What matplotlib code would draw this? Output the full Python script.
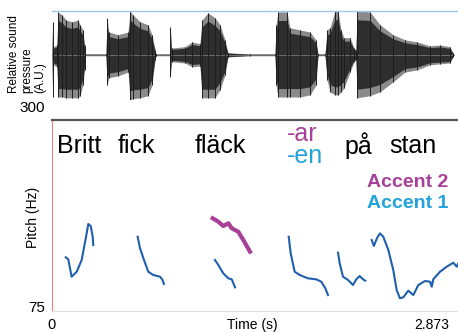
import matplotlib
matplotlib.use('Agg')
from matplotlib import pyplot as plt
import numpy as np

W, H = 458, 332

# waveform envelope: time (s), upper / lower relative amplitude
wave_t = [0.000, 0.004, 0.007, 0.035, 0.042, 0.071, 0.099, 0.142, 0.184, 0.198,
          0.219, 0.230, 0.237, 0.382, 0.389, 0.403, 0.467, 0.538, 0.552, 0.573,
          0.623, 0.679, 0.708, 0.729, 0.736, 0.835, 0.838, 0.846, 0.849, 0.941,
          0.991, 1.047, 1.061, 1.104, 1.153, 1.189, 1.224, 1.245, 1.401, 1.578,
          1.585, 1.599, 1.663, 1.684, 1.755, 1.826, 1.868, 1.882, 1.932, 1.946,
          1.967, 2.002, 2.024, 2.045, 2.066, 2.109, 2.137, 2.151, 2.158, 2.250,
          2.321, 2.413, 2.498, 2.583, 2.675, 2.745, 2.816, 2.837, 2.845]
wave_top = [0.00, 0.77, 0.19, 0.23, 1.00, 0.93, 0.81, 0.77, 0.81, 0.70,
            0.58, 0.23, 0.02, 0.02, 0.86, 0.53, 0.47, 0.53, 1.02, 0.93,
            0.77, 0.70, 0.47, 0.12, 0.02, 0.02, 0.65, 0.07, 0.16, 0.19,
            0.30, 0.26, 0.81, 0.98, 0.86, 0.70, 0.35, 0.05, 0.02, 0.02,
            0.70, 1.00, 1.00, 0.63, 0.58, 0.53, 0.35, 0.02, 0.02, 0.58,
            0.63, 1.02, 1.02, 0.58, 0.40, 0.40, 0.16, 0.12, 1.02, 1.00,
            0.70, 0.47, 0.35, 0.30, 0.21, 0.23, 0.19, 0.05, 0.00]
wave_bot = [0.00, -0.98, -0.23, -0.28, -0.98, -0.98, -1.00, -1.00, -1.00, -0.95,
            -0.70, -0.35, -0.02, -0.02, -0.70, -0.53, -0.49, -0.40, -1.05, -1.02,
            -1.00, -0.95, -0.70, -0.12, -0.02, -0.02, -0.51, -0.07, -0.16, -0.19,
            -0.28, -0.26, -1.00, -1.00, -1.00, -0.81, -0.47, -0.05, -0.02, -0.02,
            -0.70, -0.98, -0.98, -0.98, -0.98, -0.93, -0.70, -0.02, -0.02, -0.58,
            -0.86, -0.93, -0.93, -0.86, -0.77, -0.40, -0.16, -0.12, -1.00, -0.95,
            -0.86, -0.63, -0.40, -0.35, -0.23, -0.21, -0.19, -0.05, 0.00]

# pitch tracks (time s, Hz)
britt_t = [0.097, 0.115, 0.139, 0.175, 0.210, 0.241, 0.257, 0.274, 0.288, 0.292]
britt_hz = [138.3, 135.9, 115.4, 121.3, 135.1, 162.5, 177.5, 175.1, 162.5, 152.7]
fick_t = [0.606, 0.623, 0.651, 0.681, 0.717, 0.764, 0.780, 0.792]
fick_hz = [162.5, 148.9, 135.1, 121.3, 117.4, 115.4, 112.3, 106.8]
flack1_t = [1.153, 1.177, 1.212, 1.248, 1.272, 1.295]
flack1_hz = [135.1, 129.2, 119.4, 113.5, 112.3, 102.9]
flack2_t = [1.137, 1.177, 1.212, 1.248, 1.272, 1.318, 1.354, 1.401]
flack2_hz = [184.2, 180.2, 175.1, 178.3, 172.4, 168.4, 158.6, 144.9]
en_t = [1.675, 1.689, 1.717, 1.753, 1.811, 1.870, 1.906, 1.934, 1.953]
en_hz = [162.5, 143.0, 121.3, 117.4, 113.5, 112.3, 109.5, 101.7, 93.8]
pa_t = [2.024, 2.036, 2.059, 2.095, 2.130, 2.153, 2.177, 2.201, 2.217]
pa_hz = [143.7, 131.2, 115.4, 111.5, 105.6, 112.3, 116.2, 112.3, 110.7]
stan_t = [2.262, 2.278, 2.300, 2.321, 2.344, 2.380, 2.415, 2.439, 2.462, 2.486,
          2.521, 2.557, 2.592, 2.639, 2.675, 2.687, 2.698, 2.746, 2.793, 2.840,
          2.864, 2.873]
stan_hz = [158.6, 151.6, 161.0, 166.5, 162.5, 146.9, 123.3, 99.7, 90.0, 91.1,
           98.9, 93.8, 105.6, 110.3, 109.5, 103.6, 112.3, 121.3, 127.2, 131.9,
           127.2, 130.4]

words = ['Britt', 'fick', 'fläck', 'på', 'stan']
word_x = [57, 118, 195, 344, 389]

blue = '#1f5fae'
magenta = '#a8409a'
cyan = '#22a3d9'

plt.rcParams['font.family'] = ['Liberation Sans', 'DejaVu Sans']

fig = plt.figure(figsize=(W / 100, H / 100), dpi=100)


def fx(x):
    return x / W


def fy(y):
    return 1 - y / H


# waveform panel
ax1 = fig.add_axes([fx(52), fy(100), (458 - 52) / W, 89 / H])
wt = np.array(wave_t)
wtop = np.array(wave_top)
wbot = np.array(wave_bot)
ax1.plot([0, 2.845], [0, 0], color='#777777', lw=0.6)
ax1.fill_between(wt, wbot, wtop, color='#8a8a8a', lw=0)
ax1.fill_between(wt, wbot * 0.8, wtop * 0.8, color='#2e2e2e', lw=0)
ax1.vlines(wt, wbot, wtop, color='#1e1e1e', lw=0.7)
ax1.set_xlim(0, 2.873)
ax1.set_ylim(-1.05, 1.02)
for s in ['left', 'right', 'bottom']:
    ax1.spines[s].set_visible(False)
ax1.spines['top'].set_color('#9cc8e6')
ax1.spines['top'].set_linewidth(1.0)
ax1.set_xticks([])
ax1.set_yticks([])
ax1.patch.set_alpha(0)

# pitch panel
ax2 = fig.add_axes([fx(52), fy(311), (458 - 52) / W, 191 / H])
ax2.plot(britt_t, britt_hz, color=blue, lw=1.5)
ax2.plot(fick_t, fick_hz, color=blue, lw=1.5)
ax2.plot(flack1_t, flack1_hz, color=blue, lw=1.5)
ax2.plot(flack2_t, flack2_hz, color=magenta, lw=3)
ax2.plot(en_t, en_hz, color=blue, lw=1.5)
ax2.plot(pa_t, pa_hz, color=blue, lw=1.5)
ax2.plot(stan_t, stan_hz, color=blue, lw=1.5)
ax2.set_xlim(0, 2.873)
ax2.set_ylim(75, 300)
ax2.set_xticks([])
ax2.set_yticks([])
ax2.spines['right'].set_visible(False)
ax2.spines['top'].set_color('#555555')
ax2.spines['top'].set_linewidth(1.6)
ax2.spines['bottom'].set_color('#dddddd')
ax2.spines['left'].set_color('#f08080')
ax2.spines['left'].set_linestyle((0, (1, 1)))
ax2.spines['left'].set_linewidth(0.8)

for w, x in zip(words, word_x):
    fig.text(fx(x), fy(146), w, fontsize=18, ha='left', va='center')
fig.text(fx(287), fy(134), '-ar', fontsize=18, color=magenta, ha='left', va='center')
fig.text(fx(287), fy(156), '-en', fontsize=18, color=cyan, ha='left', va='center')
fig.text(fx(448), fy(182), 'Accent 2', fontsize=14, fontweight='bold', color=magenta,
         ha='right', va='center')
fig.text(fx(448), fy(204), 'Accent 1', fontsize=14, fontweight='bold', color=cyan,
         ha='right', va='center')

fig.text(fx(27), fy(93), 'Relative sound\npressure\n(A.U.)', fontsize=8.5,
         rotation=90, ha='center', va='bottom', multialignment='left', linespacing=1.1)
fig.text(fx(33), fy(217), 'Pitch (Hz)', fontsize=10, rotation=90, ha='center', va='center')
fig.text(fx(45), fy(108), '300', fontsize=11, ha='right', va='center')
fig.text(fx(45), fy(308), '75', fontsize=11, ha='right', va='center')
fig.text(fx(51), fy(325), '0', fontsize=10.5, ha='center', va='center')
fig.text(fx(252), fy(325), 'Time (s)', fontsize=10, ha='center', va='center')
fig.text(fx(432), fy(325), '2.873', fontsize=10, ha='center', va='center')

fig.savefig('out.png', dpi=100)
